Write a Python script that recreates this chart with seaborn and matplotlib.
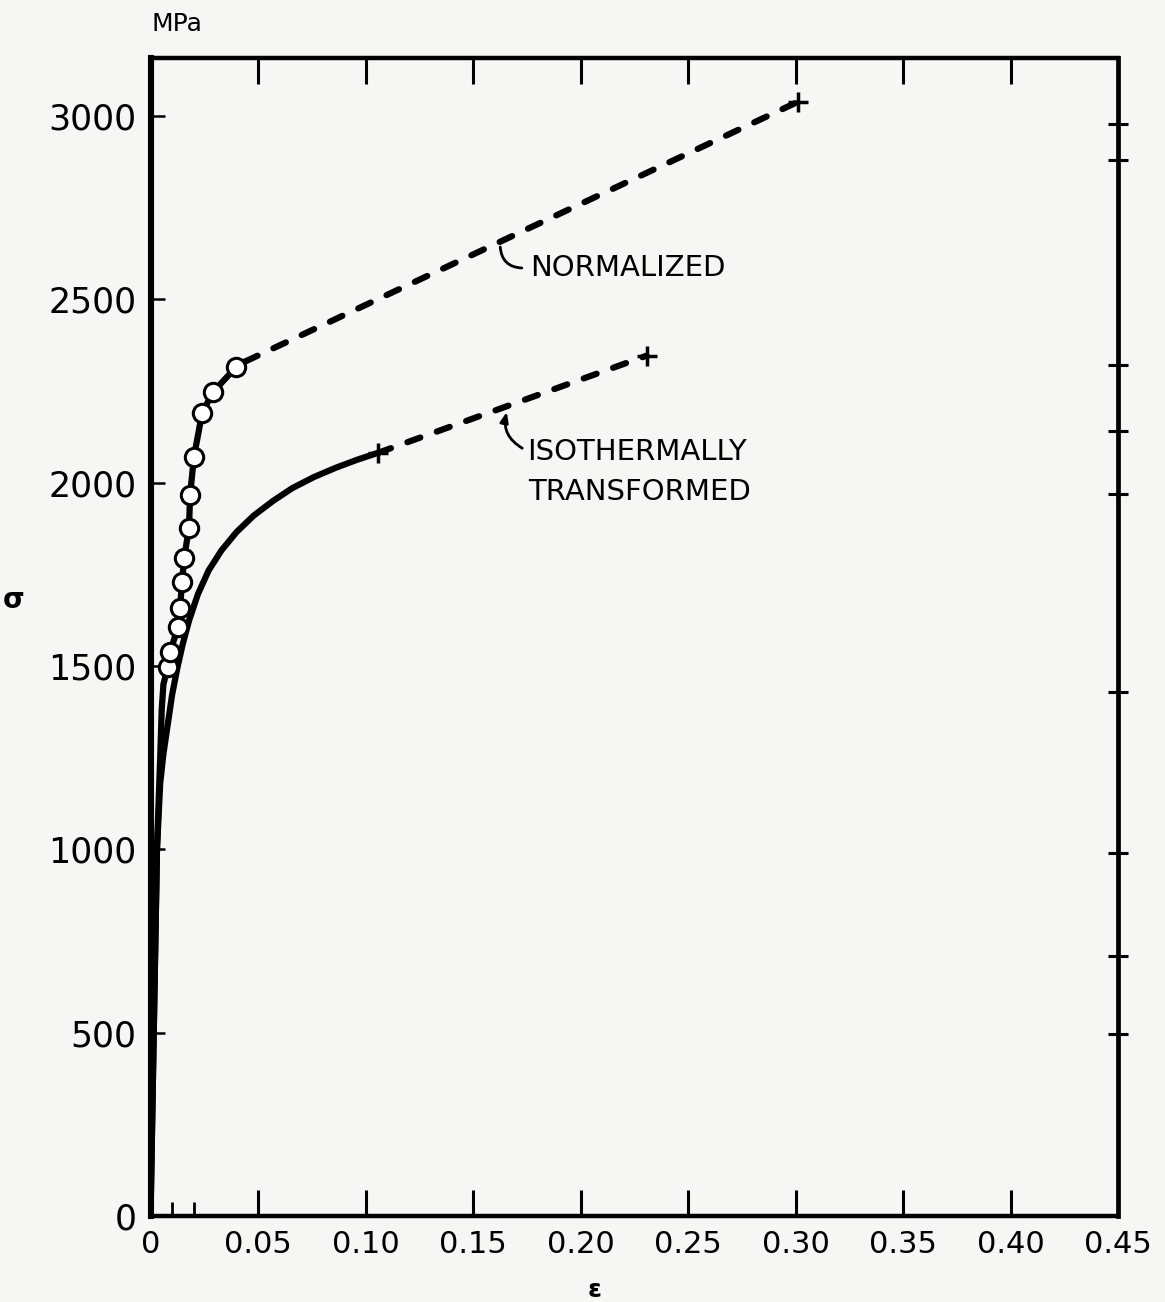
import matplotlib
matplotlib.use("Agg")
import matplotlib.pyplot as plt
import seaborn as sns
import pandas as pd

# True stress-strain data (strain, stress in MPa)
norm_strain = [0.0, 0.0030, 0.0045, 0.0052, 0.0060, 0.0081, 0.0091, 0.0128, 0.0137,
               0.0147, 0.0156, 0.0179, 0.0184, 0.0202, 0.0240, 0.0291, 0.0398, 0.0440]
norm_stress = [0, 1000, 1250, 1380, 1450, 1497, 1538, 1606, 1658,
               1729, 1794, 1876, 1966, 2070, 2190, 2247, 2315, 2330]

# measured points on the normalized curve
norm_pt_strain = [0.0081, 0.0091, 0.0128, 0.0137, 0.0147, 0.0156,
                  0.0179, 0.0184, 0.0202, 0.0240, 0.0291, 0.0398]
norm_pt_stress = [1497, 1538, 1606, 1658, 1729, 1794,
                  1876, 1966, 2070, 2190, 2247, 2315]

# extrapolated part of the normalized curve
norm_ext_strain = [0.0440, 0.301]
norm_ext_stress = [2330, 3038]

iso_strain = [0.0, 0.0030, 0.0045, 0.0060, 0.0080, 0.0100, 0.0125, 0.0150,
              0.0180, 0.0220, 0.0270, 0.0330, 0.0400, 0.0480, 0.0570,
              0.0660, 0.0760, 0.0860, 0.0960, 0.1058]
iso_stress = [0, 1000, 1180, 1260, 1340, 1420, 1495, 1560,
              1625, 1695, 1760, 1815, 1865, 1910, 1950,
              1985, 2015, 2040, 2062, 2081]

iso_ext_strain = [0.1058, 0.2307]
iso_ext_stress = [2081, 2346]

x_ticks = [0, 0.05, 0.10, 0.15, 0.20, 0.25, 0.30, 0.35, 0.40, 0.45]
x_tick_labels = ["0", "0.05", "0.10", "0.15", "0.20", "0.25", "0.30", "0.35", "0.40", "0.45"]
y_ticks = [0, 500, 1000, 1500, 2000, 2500, 3000]
y_tick_labels = ["0", "500", "1000", "1500", "2000", "2500", "3000"]
right_ticks = [2978, 2880, 2321, 2141, 1969, 1429, 990, 709, 496]

sns.set_theme(style="white")
plt.rcParams["font.family"] = ["DejaVu Sans"]
plt.rcParams["text.color"] = "black"
plt.rcParams["xtick.color"] = "black"
plt.rcParams["ytick.color"] = "black"

bg = "#f6f6f4"
fig = plt.figure(figsize=(11.65, 13.02), dpi=100, facecolor=bg)
ax = fig.add_axes([0.1292, 0.0661, 0.8305, 0.8894])
ax.set_facecolor(bg)

lw = 4.5
dash = dict(linestyle=(0, (2.2, 2.8)), dash_capstyle="round")

sns.lineplot(x=norm_strain, y=norm_stress, ax=ax, color="black", lw=lw,
             sort=False, estimator=None, solid_joinstyle="round")
sns.lineplot(x=iso_strain, y=iso_stress, ax=ax, color="black", lw=lw,
             sort=False, estimator=None, solid_joinstyle="round")
sns.lineplot(x=norm_ext_strain, y=norm_ext_stress, ax=ax, color="black", lw=lw,
             sort=False, estimator=None, **dash)
sns.lineplot(x=iso_ext_strain, y=iso_ext_stress, ax=ax, color="black", lw=lw,
             sort=False, estimator=None, **dash)

pts = pd.DataFrame({"strain": norm_pt_strain, "stress": norm_pt_stress})
sns.scatterplot(data=pts, x="strain", y="stress", ax=ax, s=175, marker="o",
                facecolor="white", edgecolor="black", linewidth=2.2, zorder=5)

# end marks of the curves
ends = pd.DataFrame({"strain": [norm_ext_strain[-1], iso_ext_strain[0], iso_ext_strain[-1]],
                     "stress": [norm_ext_stress[-1], iso_ext_stress[0], iso_ext_stress[-1]]})
sns.scatterplot(data=ends, x="strain", y="stress", ax=ax, marker="+", s=220,
                color="black", linewidth=2.5, zorder=6)

ax.set_xlim(0, 0.45)
ax.set_ylim(0, 3158)
ax.set_xticks(x_ticks)
ax.set_xticklabels(x_tick_labels)
ax.set_yticks(y_ticks)
ax.set_yticklabels(y_tick_labels)
ax.set_xticks([0.01, 0.02], minor=True)
ax.set_xlabel("")
ax.set_ylabel("")

ax.tick_params(axis="x", which="major", direction="in", length=19, width=2.2,
               top=True, bottom=True, labelsize=22, pad=10)
ax.tick_params(axis="x", which="minor", direction="in", length=10, width=2,
               top=False, bottom=True)
ax.tick_params(axis="y", which="major", direction="in", length=10, width=1.8,
               left=True, right=False, labelsize=25, pad=10)

sec = ax.secondary_yaxis("right")
sec.set_yticks(right_ticks)
sec.tick_params(direction="inout", length=14, width=2.2, labelright=False)
sec.spines["right"].set_visible(False)

for side, w in [("left", 4.4), ("right", 3.4), ("top", 3.2), ("bottom", 3.2)]:
    ax.spines[side].set_linewidth(w)
    ax.spines[side].set_color("black")
    ax.spines[side].set_visible(True)

# curve labels with hooked leaders
ax.text(0.1765, 2585, "NORMALIZED", fontsize=21, ha="left", va="center")
ax.annotate("", xy=(0.1626, 2650), xytext=(0.1740, 2585),
            arrowprops=dict(arrowstyle="-", lw=2, color="black",
                            connectionstyle="arc3,rad=-0.5"))
ax.text(0.1750, 2083, "ISOTHERMALLY", fontsize=21, ha="left", va="center")
ax.text(0.1755, 1974, "TRANSFORMED", fontsize=21, ha="left", va="center")
ax.annotate("", xy=(0.1660, 2200), xytext=(0.1740, 2090),
            arrowprops=dict(arrowstyle="-|>,head_length=0.5,head_width=0.2",
                            lw=2, color="black",
                            connectionstyle="arc3,rad=-0.4"))

fig.text(152 / 1165, 1 - 24 / 1302, "MPa", fontsize=18, ha="left", va="center")
fig.text(14 / 1165, 1 - 600 / 1302, "σ", fontsize=20, fontweight="bold",
         ha="center", va="center")
fig.text(595 / 1165, 1 - 1290 / 1302, "ε", fontsize=18, fontweight="bold",
         ha="center", va="center")

fig.savefig("out.png", dpi=100, facecolor=bg)
